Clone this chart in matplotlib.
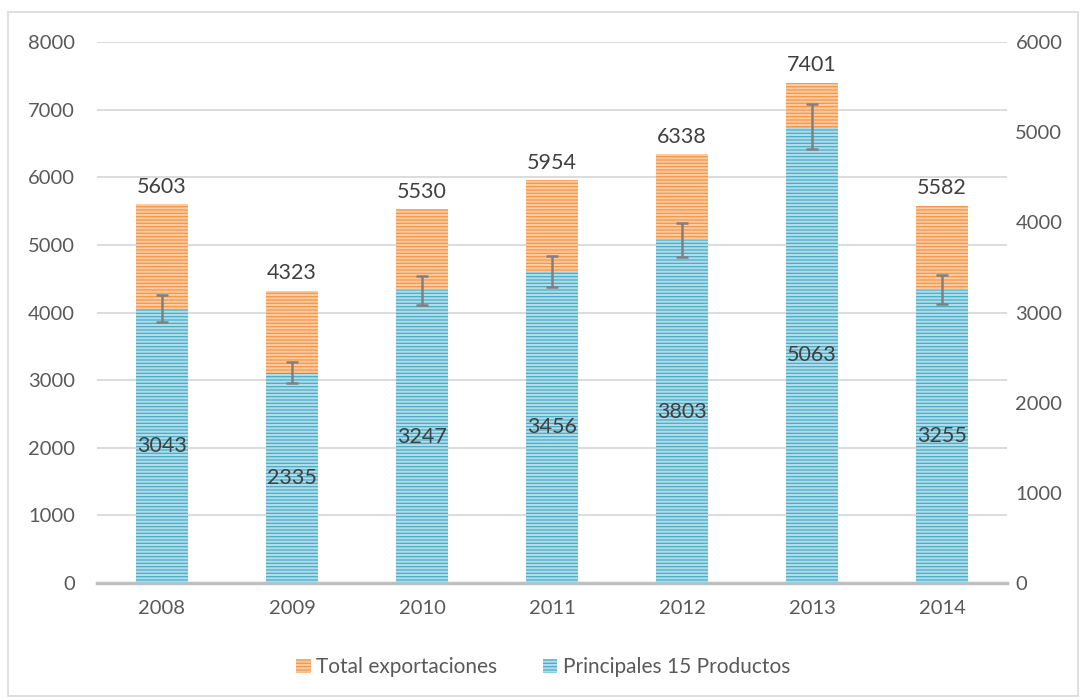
import numpy as np
import matplotlib.pyplot as plt
from matplotlib.patches import Rectangle, Patch

plt.rcParams['font.family'] = ['Lato', 'DejaVu Sans']
plt.rcParams['hatch.linewidth'] = 1.5

# Data
years = ['2008', '2009', '2010', '2011', '2012', '2013', '2014']
total = [5603, 4323, 5530, 5954, 6338, 7401, 5582]
principales = [3043, 2335, 3247, 3456, 3803, 5063, 3255]
err = [v * 0.05 for v in principales]

orange = '#F79646'
orange_hatch = '#FCCBA2'
blue = '#4BACC6'
blue_hatch = '#B0DDEA'
tick_col = '#595959'
lab_col = '#404040'

fig = plt.figure(figsize=(10.86, 7), dpi=100)
ax = fig.add_axes([0.0893, 0.167, 0.838, 0.773])
ax2 = ax.twinx()

x = np.arange(len(years))
w = 0.4

ax.bar(x, total, w, color=orange, edgecolor=orange_hatch, linewidth=0, hatch='-----', zorder=2)
ax.set_ylim(0, 8000)
ax.set_yticks(range(0, 8001, 1000))
ax.yaxis.grid(True, color='#D9D9D9', linewidth=1.3, zorder=0)
ax.set_axisbelow(True)
for xi, v in zip(x, total):
    ax.text(xi, v + 110, str(v), ha='center', va='bottom', fontsize=15.5, color=lab_col)

ax2.bar(x, principales, w, color=blue, edgecolor=blue_hatch, linewidth=0, hatch='-----', zorder=2)
ax2.errorbar(x, principales, yerr=err, fmt='none', ecolor='#808080', elinewidth=1.8,
             capsize=4.5, capthick=1.8, zorder=3)
ax2.set_ylim(0, 6000)
ax2.set_yticks(range(0, 6001, 1000))
for xi, v in zip(x, principales):
    ax2.text(xi, v / 2, str(v), ha='center', va='center', fontsize=15.5, color=lab_col, zorder=4)

ax.set_xlim(-0.5, 6.5)
ax.set_xticks(x)
ax.set_xticklabels(years)

for a in (ax, ax2):
    for s in a.spines.values():
        s.set_visible(False)
    a.tick_params(length=0, labelsize=14.5, colors=tick_col)
ax.spines['bottom'].set_visible(True)
ax.spines['bottom'].set_color('#BFBFBF')
ax.spines['bottom'].set_linewidth(2.5)
ax.spines['bottom'].set_zorder(5)
ax.tick_params(axis='x', pad=12)
ax.tick_params(axis='y', pad=16)
ax2.tick_params(axis='y', pad=6)

handles = [Patch(facecolor=orange, edgecolor=orange_hatch, hatch='-----', linewidth=0, label='Total exportaciones'),
           Patch(facecolor=blue, edgecolor=blue_hatch, hatch='-----', linewidth=0, label='Principales 15 Productos')]
fig.legend(handles=handles, loc='center', bbox_to_anchor=(0.5, 0.047), ncol=2, frameon=False,
           fontsize=15, labelcolor=tick_col, handlelength=0.7, handleheight=0.7,
           handletextpad=0.25, columnspacing=2.2)

fig.patches.append(Rectangle((0.007, 0.006), 0.986, 0.977, transform=fig.transFigure,
                             fill=False, edgecolor='#D9D9D9', linewidth=1.2))

fig.savefig('out.png', dpi=100)
